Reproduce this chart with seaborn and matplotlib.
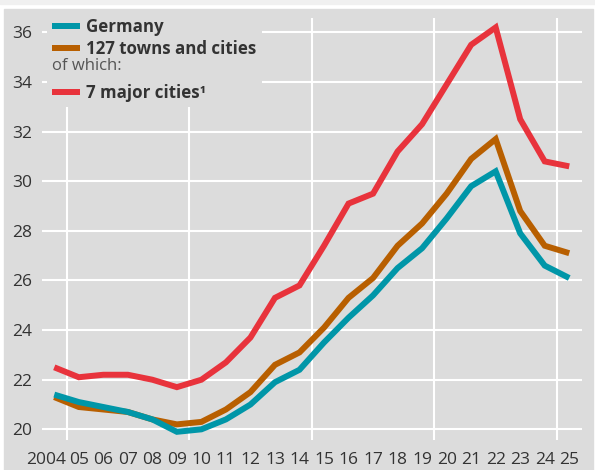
import numpy as np
import pandas as pd
import matplotlib
matplotlib.use("Agg")
import matplotlib.pyplot as plt
import matplotlib.transforms as mtransforms
from matplotlib.lines import Line2D
from matplotlib.patches import Rectangle
import seaborn as sns

# data
years = list(range(2004, 2026))
year_labels = ["2004"] + [f"{y % 100:02d}" for y in years[1:]]
germany = [21.4, 21.1, 20.9, 20.7, 20.4, 19.9, 20.0, 20.4, 21.0, 21.9, 22.4,
           23.5, 24.5, 25.4, 26.5, 27.3, 28.5, 29.8, 30.4, 27.9, 26.6, 26.1]
towns = [21.3, 20.9, 20.8, 20.7, 20.4, 20.2, 20.3, 20.8, 21.5, 22.6, 23.1,
         24.1, 25.3, 26.1, 27.4, 28.3, 29.5, 30.9, 31.7, 28.8, 27.4, 27.1]
cities = [22.5, 22.1, 22.2, 22.2, 22.0, 21.7, 22.0, 22.7, 23.7, 25.3, 25.8,
          27.4, 29.1, 29.5, 31.2, 32.3, 33.9, 35.5, 36.2, 32.5, 30.8, 30.6]
y_ticks = [20, 22, 24, 26, 28, 30, 32, 34, 36]

colors = {"Germany": "#0096a8", "127 towns and cities": "#b85f00",
          "7 major cities¹": "#e8333c"}
bg = "#dcdcdc"
text_col = "#333333"

df = pd.DataFrame({
    "year": years * 3,
    "value": towns + germany + cities,
    "series": ["127 towns and cities"] * len(years) + ["Germany"] * len(years)
              + ["7 major cities¹"] * len(years),
})

sns.set_style("white")
plt.rcParams["font.family"] = ["Open Sans", "DejaVu Sans"]

fig = plt.figure(figsize=(5.95, 4.70), dpi=100, facecolor="white")
# page background panels
fig.add_artist(Rectangle((0, 1 - 4 / 470), 1, 4 / 470, transform=fig.transFigure,
                         color="#f0f0f0", zorder=-10))
fig.add_artist(Rectangle((4 / 595, 0), 589 / 595, 1 - 9 / 470,
                         transform=fig.transFigure, color=bg, zorder=-10))

ax = fig.add_axes([42 / 595, 30 / 470, 539.5 / 595, 422 / 470])
ax.set_facecolor(bg)

sns.lineplot(data=df, x="year", y="value", hue="series",
             hue_order=["127 towns and cities", "Germany", "7 major cities¹"],
             palette=colors, linewidth=4.3, legend=False, ax=ax,
             solid_capstyle="butt", solid_joinstyle="miter")

ax.set_xlim(2003.5, 2025.5)
ax.set_ylim(19.57, 36.58)
for s in ax.spines.values():
    s.set_visible(False)

ax.set_yticks(y_ticks)
ax.set_yticklabels([str(v) for v in y_ticks])
ax.yaxis.grid(True, color="white", linewidth=1.5)
ax.set_axisbelow(True)

ax.set_xticks(years)
ax.set_xticklabels(year_labels)
ax.set_xticks([y + 0.5 for y in years[:-1]], minor=True)
ax.tick_params(axis="x", which="major", length=0, pad=9, labelsize=12.5,
               labelcolor=text_col)
ax.tick_params(axis="x", which="minor", length=28, width=1.5, color="white",
               direction="out")
ax.tick_params(axis="y", length=0, pad=7, labelsize=12.5, labelcolor=text_col)
for x in years[:-1:5]:
    ax.axvline(x + 0.5, color="white", linewidth=1.5, zorder=0.5)

# first label sits left of the first divider
first = ax.get_xticklabels()[0]
first.set_horizontalalignment("right")
first.set_transform(first.get_transform()
                    + mtransforms.ScaledTranslation(0.12, 0, fig.dpi_scale_trans))

ax.set_xlabel("")
ax.set_ylabel("")

lw_leg = 6 * 72 / 100
handles = [
    Line2D([], [], color=colors["Germany"], linewidth=lw_leg, solid_capstyle="butt"),
    Line2D([], [], color=colors["127 towns and cities"], linewidth=lw_leg,
           solid_capstyle="butt"),
    Line2D([], [], color="none"),
    Line2D([], [], color=colors["7 major cities¹"], linewidth=lw_leg,
           solid_capstyle="butt"),
]
labels = ["Germany", "127 towns and cities", " ", "7 major cities¹"]
leg = ax.legend(handles, labels, loc="upper left",
                bbox_to_anchor=(47 / 595, 1 - 13 / 470),
                bbox_transform=fig.transFigure, frameon=True, facecolor=bg,
                edgecolor="none", framealpha=1, fancybox=False,
                borderpad=0.3, borderaxespad=0, handlelength=1.67,
                handletextpad=0.36, labelspacing=0.24,
                prop={"size": 12.2, "weight": "bold"})
for t in leg.get_texts():
    t.set_color(text_col)

fig.text(52 / 595, 1 - 66 / 470, "of which:", fontsize=12, color="#555555",
         va="center", ha="left", zorder=10)

fig.savefig("out.png", dpi=100, facecolor=fig.get_facecolor())
